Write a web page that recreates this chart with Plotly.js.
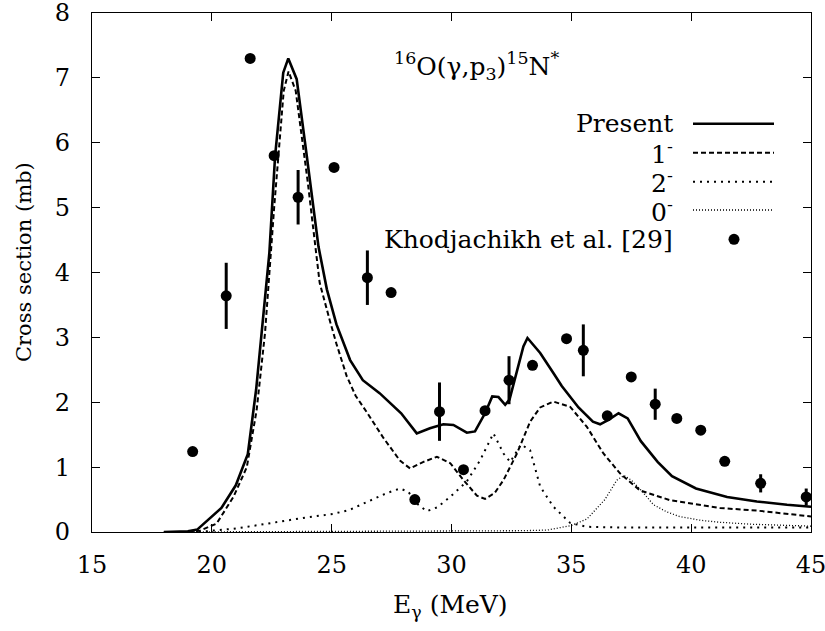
<!DOCTYPE html>
<html>
<head>
<meta charset="utf-8">
<script src="https://cdn.plot.ly/plotly-3.0.1.min.js"></script>
<style>html,body{margin:0;padding:0;background:#fff;}#chart{width:825px;height:631px;}</style>
</head>
<body>
<div id="chart"></div>
<script>
// Present (total)
var presentX = [18.0, 19.0, 19.4, 19.9, 20.4, 21.0, 21.5, 21.85, 22.1, 22.4, 22.64, 22.98, 23.19, 23.54, 23.96, 24.45, 24.8, 25.2, 25.77, 26.3, 27.0, 27.9, 28.55, 29.1, 29.66, 30.08, 30.64, 30.98, 31.4, 31.7, 31.96, 32.24, 32.42, 32.73, 33.0, 33.17, 33.7, 34.25, 34.6, 35.3, 35.9, 36.2, 36.55, 36.97, 37.35, 37.9, 38.6, 39.2, 40.2, 41.5, 42.74, 44.0, 45.0];
var presentY = [0, 0.01, 0.04, 0.2, 0.37, 0.72, 1.2, 2.2, 3.2, 4.3, 5.8, 7.08, 7.3, 6.98, 5.8, 4.4, 3.74, 3.2, 2.65, 2.34, 2.14, 1.83, 1.52, 1.60, 1.66, 1.65, 1.53, 1.55, 1.83, 2.09, 2.08, 1.96, 2.04, 2.5, 2.86, 2.99, 2.76, 2.45, 2.25, 1.92, 1.70, 1.66, 1.73, 1.83, 1.75, 1.40, 1.08, 0.86, 0.67, 0.54, 0.47, 0.42, 0.39];
// 1- component
var oneX = [18.0, 19.0, 19.5, 20.2, 20.9, 21.46, 21.87, 22.22, 22.6, 23.0, 23.2, 23.5, 24.0, 24.5, 24.93, 25.2, 25.63, 26.0, 26.46, 27.16, 27.85, 28.27, 28.83, 29.39, 29.95, 30.5, 31.06, 31.4, 31.8, 32.17, 32.73, 33.28, 33.7, 34.25, 34.95, 35.65, 36.34, 37.04, 37.87, 39.12, 40.0, 41.2, 42.74, 45.0];
var oneY = [0, 0, 0.02, 0.13, 0.54, 1.0, 1.88, 3.07, 5.0, 6.8, 7.1, 6.8, 5.4, 3.84, 3.25, 2.9, 2.4, 2.1, 1.85, 1.45, 1.1, 0.98, 1.08, 1.16, 1.06, 0.80, 0.56, 0.51, 0.6, 0.80, 1.21, 1.70, 1.92, 2.01, 1.93, 1.62, 1.21, 0.90, 0.64, 0.49, 0.44, 0.37, 0.33, 0.24];
// 2- component
var twoX = [18.0, 19.5, 20.0, 20.9, 22.0, 23.0, 23.68, 25.07, 25.74, 26.46, 27.3, 27.85, 28.2, 28.55, 28.97, 29.4, 29.94, 30.64, 31.2, 31.75, 32.17, 32.45, 32.9, 33.28, 33.7, 34.25, 34.95, 35.65, 37.0, 40.0, 45.0];
var twoY = [0, 0, 0.02, 0.05, 0.11, 0.17, 0.21, 0.28, 0.34, 0.46, 0.6, 0.67, 0.62, 0.44, 0.32, 0.38, 0.54, 0.78, 1.11, 1.52, 1.21, 1.08, 1.35, 1.26, 0.70, 0.39, 0.14, 0.08, 0.07, 0.07, 0.07];
// 0- component
var zeroX = [18.0, 25.0, 30.0, 33.0, 34.0, 34.5, 35.0, 35.65, 36.4, 36.9, 37.2, 37.5, 37.87, 38.43, 38.98, 39.5, 40.4, 41.2, 42.5, 45.0];
var zeroY = [0, 0.005, 0.01, 0.02, 0.03, 0.06, 0.1, 0.2, 0.5, 0.8, 0.87, 0.8, 0.66, 0.42, 0.31, 0.24, 0.18, 0.15, 0.12, 0.09];
// Khodjachikh et al. [29]
var expX = [19.2, 20.6, 21.6, 22.6, 23.6, 25.1, 26.49, 27.48, 28.47, 29.5, 30.5, 31.4, 32.4, 33.38, 34.8, 35.5, 36.5, 37.5, 38.5, 39.4, 40.4, 41.4, 42.9, 44.8];
var expY = [1.24, 3.64, 7.3, 5.8, 5.16, 5.62, 3.92, 3.69, 0.50, 1.855, 0.96, 1.87, 2.34, 2.57, 2.98, 2.80, 1.79, 2.39, 1.97, 1.75, 1.57, 1.09, 0.75, 0.54];
var expErr = [0, 0.51, 0, 0, 0.42, 0, 0.42, 0, 0, 0.45, 0, 0, 0.37, 0, 0, 0.40, 0, 0, 0.24, 0, 0, 0, 0.14, 0.13];

var xTicks = [15, 20, 25, 30, 35, 40, 45];
var yTicks = [0, 1, 2, 3, 4, 5, 6, 7, 8];
var legendLabels = ['Present', '1<sup>-</sup>', '2<sup>-</sup>', '0<sup>-</sup>', 'Khodjachikh et al. [29]'];

var FONT = 'DejaVu Serif';
var styles = [
  {width: 2.6, dash: 'solid'},
  {width: 2, dash: '5px,3px'},
  {width: 2, dash: '2px,5px'},
  {width: 1.3, dash: '1px,2px'}
];

var traces = [
  {x: zeroX, y: zeroY, mode: 'lines', line: {color: '#000', width: styles[3].width, dash: styles[3].dash}},
  {x: twoX, y: twoY, mode: 'lines', line: {color: '#000', width: styles[2].width, dash: styles[2].dash}},
  {x: oneX, y: oneY, mode: 'lines', line: {color: '#000', width: styles[1].width, dash: styles[1].dash}},
  {x: presentX, y: presentY, mode: 'lines', line: {color: '#000', width: styles[0].width, dash: styles[0].dash}},
  {x: expX, y: expY, mode: 'markers', marker: {color: '#000', size: 11, symbol: 'circle'},
   error_y: {type: 'data', array: expErr, visible: true, color: '#000', thickness: 3, width: 0}}
];

// plot area in px: left 92, right 811, top 13, bottom 532
var L = 92, R = 811, T = 13, B = 532;
function px2paperX(p) { return (p - L) / (R - L); }
function px2paperY(p) { return (B - p) / (B - T); }

var legendRowsY = [123.7, 152.7, 181.7, 210, 239.3];
var annotations = [];
var shapes = [];
for (var i = 0; i < legendLabels.length; i++) {
  annotations.push({xref: 'paper', yref: 'paper', x: px2paperX(675), y: px2paperY(legendRowsY[i]),
    xanchor: 'right', yanchor: 'middle', text: legendLabels[i], showarrow: false,
    font: {family: FONT, size: 25, color: '#000'}});
  if (i < 4) {
    shapes.push({type: 'line', xref: 'paper', yref: 'paper', x0: px2paperX(693), x1: px2paperX(774),
      y0: px2paperY(legendRowsY[i]), y1: px2paperY(legendRowsY[i]),
      line: {color: '#000', width: styles[i].width, dash: styles[i].dash}});
  } else {
    shapes.push({type: 'circle', xref: 'paper', yref: 'paper', x0: px2paperX(728.5), x1: px2paperX(739.5),
      y0: px2paperY(legendRowsY[i] + 5.5), y1: px2paperY(legendRowsY[i] - 5.5),
      fillcolor: '#000', line: {color: '#000', width: 0}});
  }
}
annotations.push({xref: 'paper', yref: 'paper', x: px2paperX(392), y: px2paperY(66),
  xanchor: 'left', yanchor: 'middle', showarrow: false,
  text: '<sup>16</sup>O(γ,p<sub>3</sub>)<sup>15</sup>N<sup>*</sup>',
  font: {family: FONT, size: 25, color: '#000'}});
annotations.push({xref: 'paper', yref: 'paper', x: px2paperX(450), y: px2paperY(606),
  xanchor: 'center', yanchor: 'middle', showarrow: false,
  text: 'E<sub>γ</sub> (MeV)', font: {family: FONT, size: 25, color: '#000'}});
annotations.push({xref: 'paper', yref: 'paper', x: px2paperX(24), y: px2paperY(262),
  xanchor: 'center', yanchor: 'middle', showarrow: false, textangle: -90,
  text: 'Cross section (mb)', font: {family: FONT, size: 21, color: '#000'}});

var layout = {
  width: 825, height: 631,
  margin: {l: L, r: 825 - R, t: T, b: 631 - B, pad: 0},
  paper_bgcolor: '#fff', plot_bgcolor: '#fff',
  showlegend: false,
  font: {family: FONT, size: 24, color: '#000'},
  xaxis: {range: [15, 45], tickvals: xTicks, ticktext: xTicks.map(String), ticks: 'inside', ticklen: 8,
    tickwidth: 1, tickcolor: '#000', showline: true, linecolor: '#000', linewidth: 1.2, mirror: 'ticks',
    showgrid: false, zeroline: false, ticklabelstandoff: 11, ticklabeloverflow: 'allow',
    tickfont: {family: FONT, size: 24, color: '#000'}},
  yaxis: {range: [0, 8], tickvals: yTicks, ticktext: yTicks.map(String), ticks: 'inside', ticklen: 8,
    tickwidth: 1, tickcolor: '#000', showline: true, linecolor: '#000', linewidth: 1.2, mirror: 'ticks',
    showgrid: false, zeroline: false, ticklabelstandoff: 16, ticklabeloverflow: 'allow',
    tickfont: {family: FONT, size: 24, color: '#000'}},
  annotations: annotations,
  shapes: shapes
};

Plotly.newPlot('chart', traces, layout, {displayModeBar: false, staticPlot: true});
</script>
</body>
</html>
